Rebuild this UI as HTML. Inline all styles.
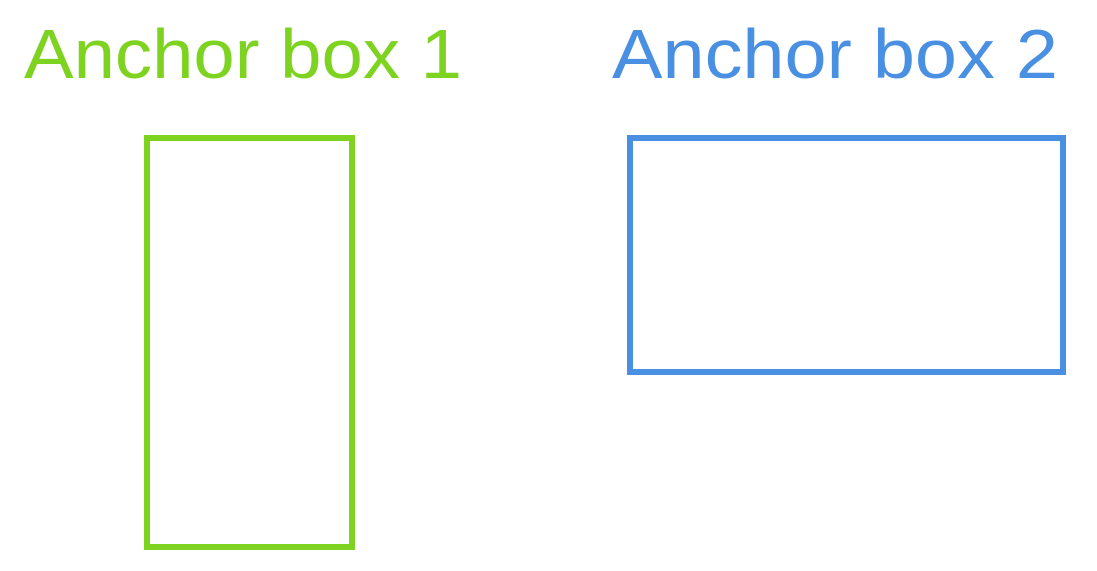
<!DOCTYPE html>
<html><head><meta charset="utf-8"><style>html,body{margin:0;padding:0;background:#fff;}svg{display:block}</style></head>
<body>
<svg width="1097" height="571" viewBox="0 0 1097 571">
<text x="24" y="78" font-family="Liberation Sans, sans-serif" font-size="70" fill="#7ED321" textLength="438" lengthAdjust="spacingAndGlyphs">Anchor box 1</text>
<text x="612" y="78" font-family="Liberation Sans, sans-serif" font-size="70" fill="#4A90E2" textLength="446" lengthAdjust="spacingAndGlyphs">Anchor box 2</text>
<rect x="147" y="138" width="205" height="409" fill="none" stroke="#7ED321" stroke-width="6"/>
<rect x="630" y="138" width="433" height="234" fill="none" stroke="#4A90E2" stroke-width="6"/>
</svg>
</body></html>
